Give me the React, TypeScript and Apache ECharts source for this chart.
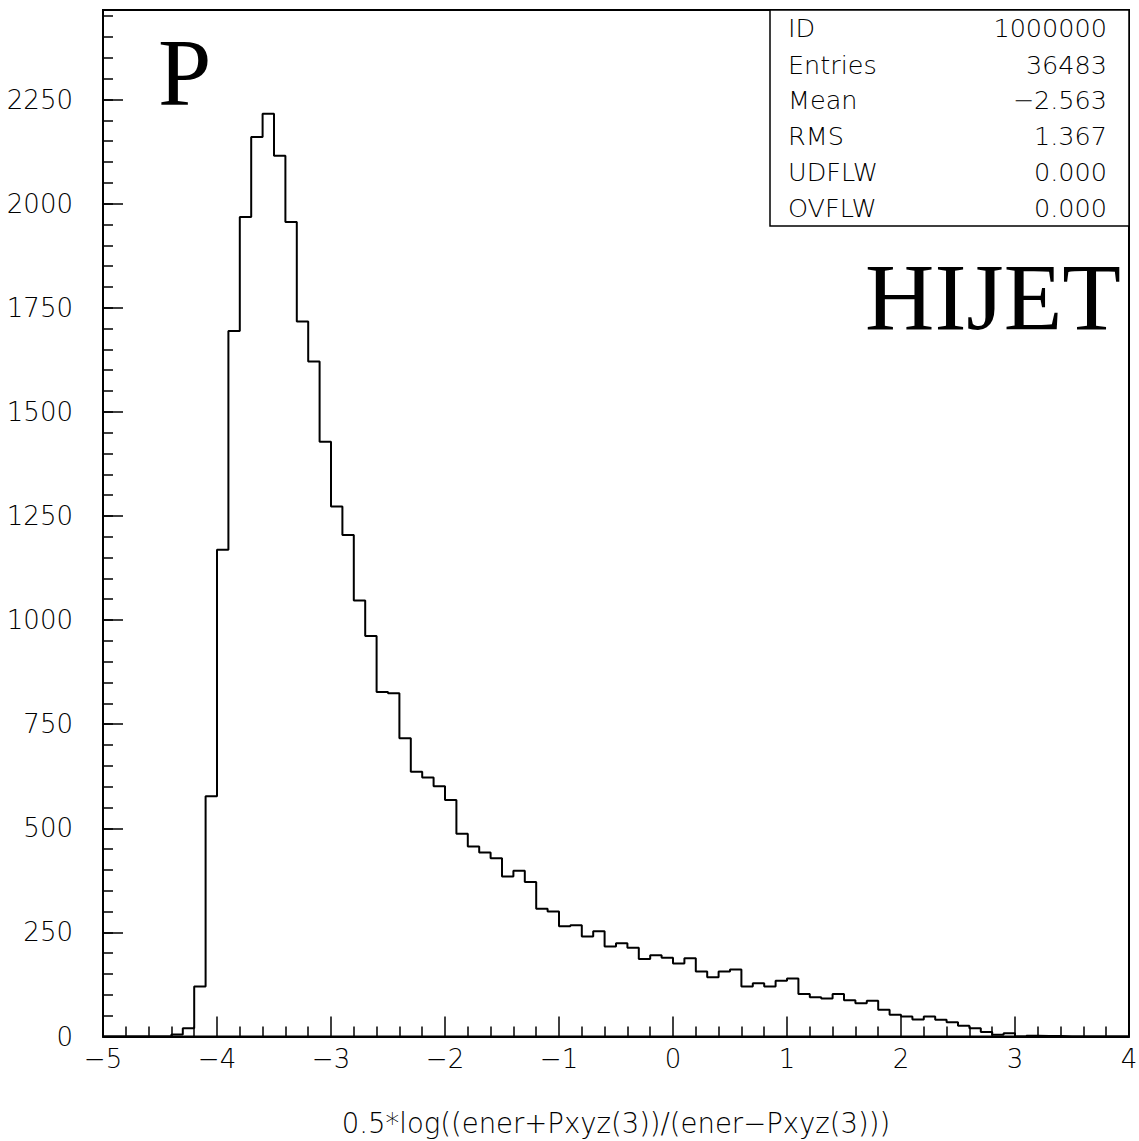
import React, { useEffect, useRef } from 'react';
import * as echarts from 'echarts';

// Histogram: 90 bins of width 0.1 from -5 to 4
const xMin = -5;
const xMax = 4;
const binWidth = 0.1;
const counts: number[] = [
  0, 0, 0, 0, 0, 0,
  5, 20, 120, 577, 1169, 1694, 1968, 2160, 2216, 2115,
  1956, 1717, 1621, 1428, 1273, 1204, 1047, 962, 827, 824,
  716, 636, 622, 601, 568, 487, 456, 442, 428, 384,
  398, 371, 307, 300, 265, 267, 240, 253, 216, 224,
  213, 186, 195, 189, 175, 188, 156, 142, 156, 161,
  120, 128, 120, 134, 139, 102, 94, 91, 102, 87,
  80, 86, 64, 52, 48, 41, 48, 40, 34, 26,
  20, 11, 4, 8, 0, 2, 1, 1,
  0, 0, 0, 0, 0, 0,
];
const yMax = 2465;
const statLabels = ['ID', 'Entries', 'Mean', 'RMS', 'UDFLW', 'OVFLW'];
const statValues = ['1000000', '36483', '\u22122.563', '1.367', '0.000', '0.000'];
const xTitle = '0.5*log((ener+Pxyz(3))/(ener\u2212Pxyz(3)))';
const leftTag = 'P';
const rightTag = 'HIJET';

const SANS = "'DejaVu Sans', sans-serif";
const SERIF = "'Liberation Serif', 'Times New Roman', serif";

export default function App() {
  const ref = useRef<HTMLDivElement>(null);
  useEffect(() => {
    document.body.style.margin = '0';
    if (!ref.current) return;
    const chart = echarts.init(ref.current, undefined, { renderer: 'svg' });
    const data: number[][] = counts.map((c, i) => [xMin + i * binWidth, c]);
    data.push([xMax, counts[counts.length - 1]]);

    const rowY = [28, 65, 100, 136, 172, 208];
    const graphics: any[] = [
      {
        type: 'rect',
        shape: { x: 770, y: 10, width: 359, height: 216 },
        style: { fill: '#fff', stroke: '#000', lineWidth: 1.5 },
        z: 10,
      },
    ];
    statLabels.forEach((s, i) => {
      graphics.push({
        type: 'text', x: 788, y: rowY[i], z: 11,
        style: { text: s, fill: '#000', font: `200 25.5px ${SANS}`, textAlign: 'left', textVerticalAlign: 'middle' },
      });
      graphics.push({
        type: 'text', x: 1107, y: rowY[i], z: 11,
        style: { text: statValues[i], fill: '#000', font: `200 25.5px ${SANS}`, textAlign: 'right', textVerticalAlign: 'middle' },
      });
    });
    graphics.push({
      type: 'text', x: 158, y: 72, z: 11,
      style: { text: leftTag, fill: '#000', font: `96px ${SERIF}`, textAlign: 'left', textVerticalAlign: 'middle' },
    });
    graphics.push({
      type: 'text', x: 1121, y: 297, z: 11,
      style: { text: rightTag, fill: '#000', font: `96px ${SERIF}`, textAlign: 'right', textVerticalAlign: 'middle' },
    });

    const labelStyle = { color: '#000', fontSize: 26, fontFamily: SANS, fontWeight: 200 as any };
    const fmt = (v: number) => String(v).replace('-', '\u2212');

    chart.setOption({
      animation: false,
      backgroundColor: '#fff',
      grid: {
        left: 103, right: 10, top: 10, bottom: 104.5, show: true,
        borderColor: '#000', borderWidth: 2, containLabel: false, outerBoundsMode: 'none',
      },
      xAxis: {
        type: 'value', min: xMin, max: xMax, interval: 1,
        axisLine: { show: true, onZero: false, lineStyle: { color: '#000', width: 2 } },
        axisTick: { show: true, inside: true, length: 20, lineStyle: { color: '#000', width: 1.5 } },
        minorTick: { show: true, splitNumber: 5, length: 10, lineStyle: { color: '#000', width: 1.5 } },
        splitLine: { show: false },
        axisLabel: { ...labelStyle, margin: 9, formatter: fmt },
        name: xTitle, nameLocation: 'middle', nameGap: 72,
        nameTextStyle: { ...labelStyle, fontSize: 27.5 },
      },
      yAxis: [
        {
          type: 'value', min: 0, max: yMax, interval: 50, position: 'left',
          axisLine: { show: true, onZero: false, lineStyle: { color: '#000', width: 2 } },
          axisTick: { show: true, inside: true, length: 10, lineStyle: { color: '#000', width: 1.5 } },
          axisLabel: { show: false },
          splitLine: { show: false },
        },
        {
          type: 'value', min: 0, max: yMax, interval: 250, position: 'left', offset: 0,
          axisLine: { show: false, onZero: false },
          axisTick: { show: true, inside: true, length: 20, lineStyle: { color: '#000', width: 1.5 } },
          axisLabel: { ...labelStyle, margin: 30, showMaxLabel: false, formatter: fmt },
          splitLine: { show: false },
        },
      ],
      series: [
        {
          type: 'line', step: 'end', data, symbol: 'none', yAxisIndex: 0,
          lineStyle: { color: '#000', width: 2 }, clip: true,
        },
      ],
      graphic: graphics,
    });
    return () => chart.dispose();
  }, []);
  return <div ref={ref} style={{ width: 1139, height: 1141 }} />;
}
